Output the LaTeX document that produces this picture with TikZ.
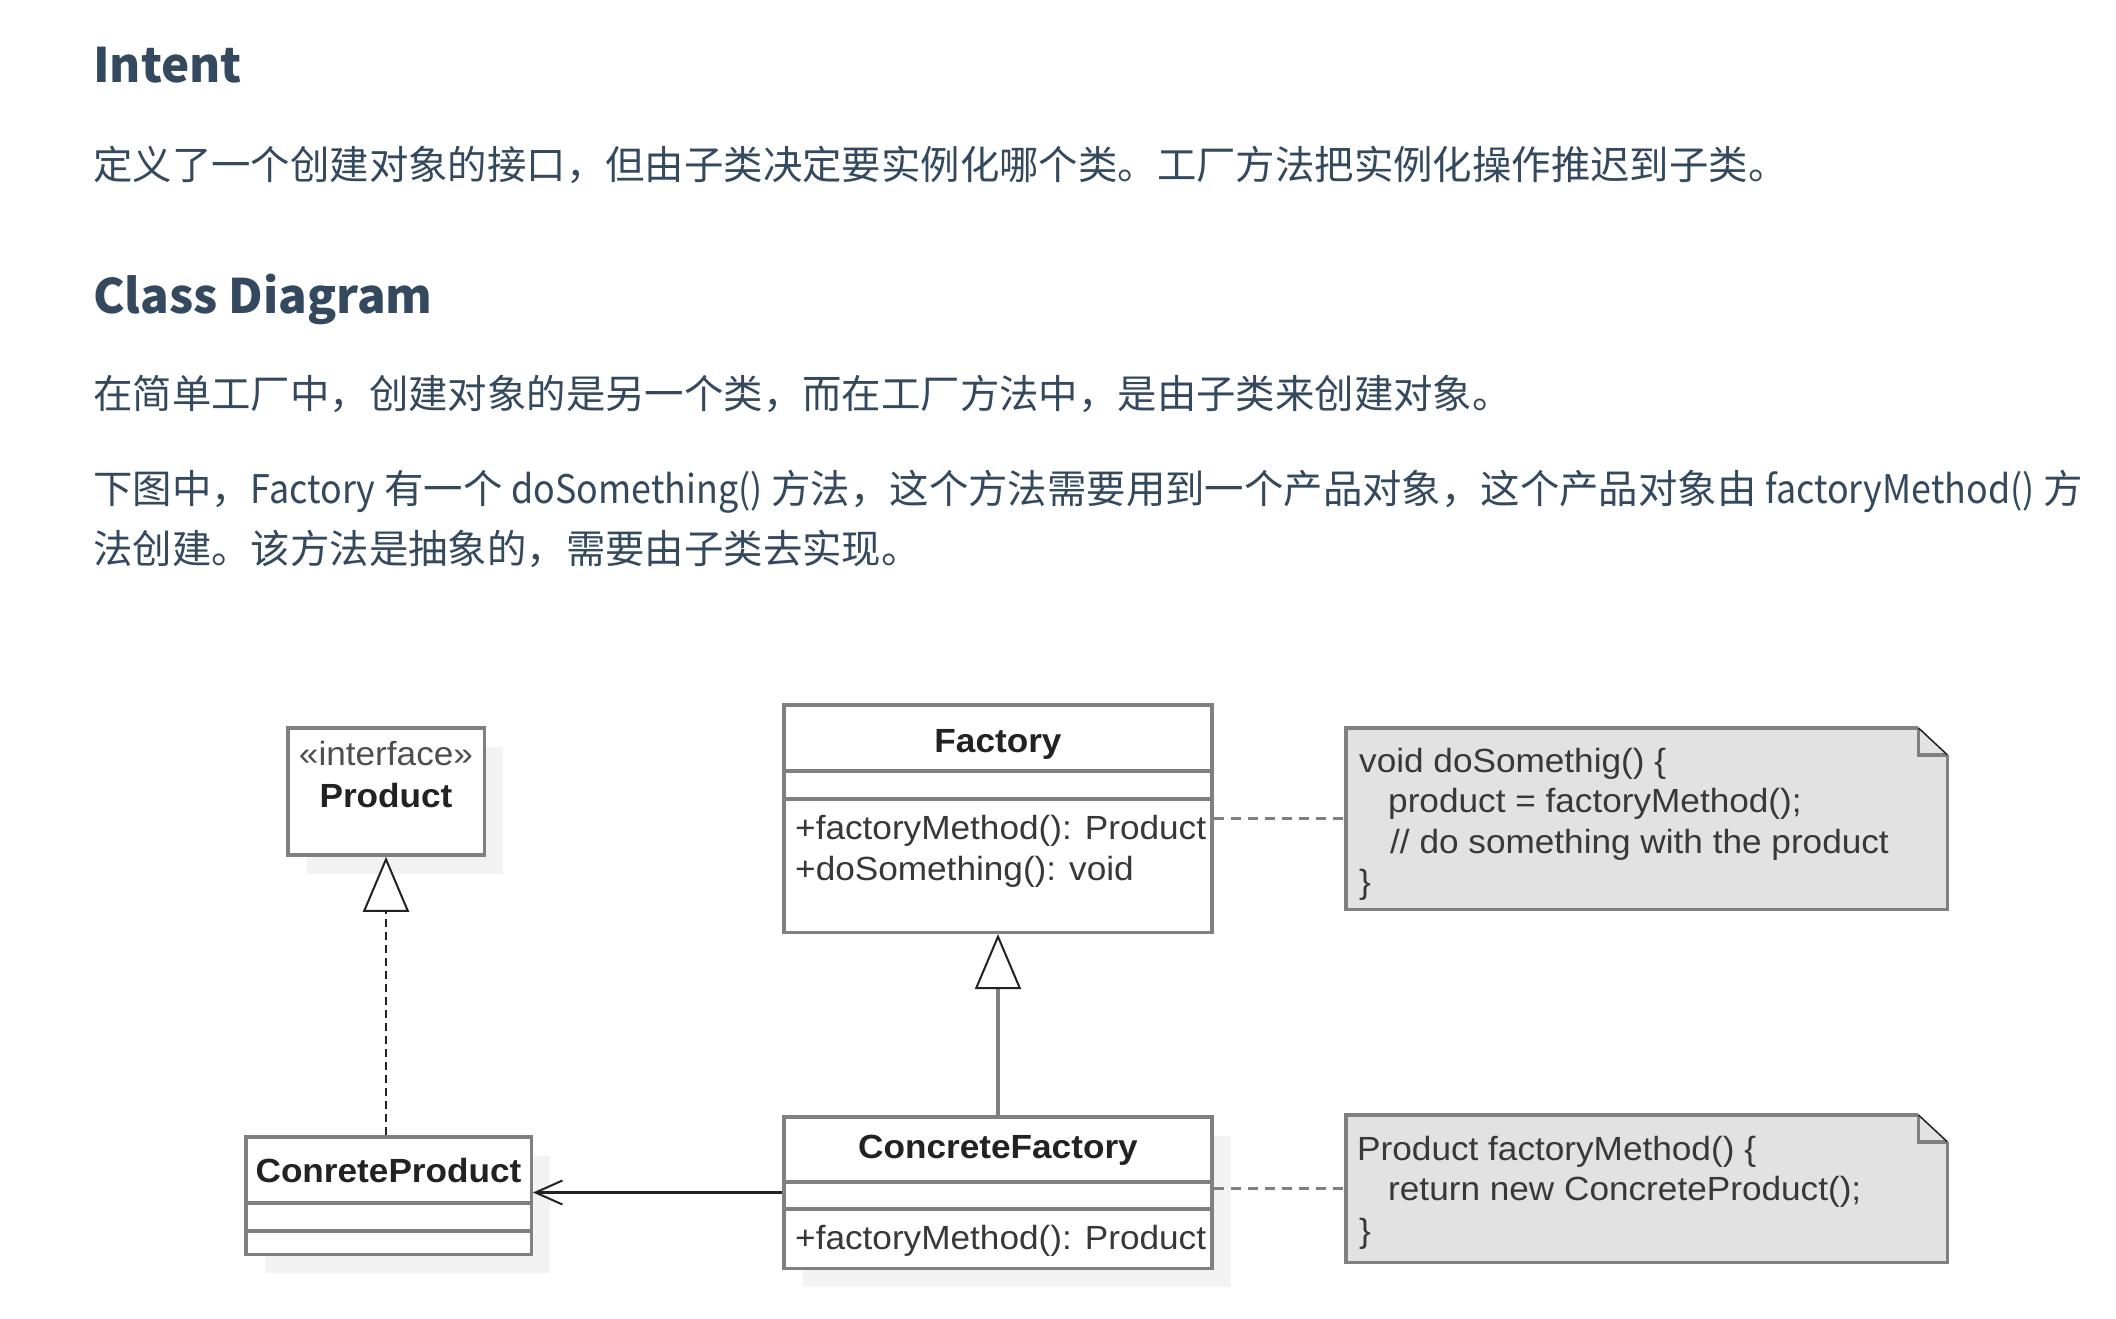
\documentclass[tikz,border=0pt]{standalone}
\usepackage{fontspec}
\setmainfont{Noto Sans CJK SC}
\newfontfamily\latinpart[FakeStretch=0.91]{Noto Sans CJK SC}
\newfontfamily\umlfont[FakeStretch=1.05]{Liberation Sans}
\usetikzlibrary{arrows.meta, shadows}

\definecolor{inkblue}{RGB}{52,73,94}
\definecolor{umlgray}{RGB}{128,128,128}
\definecolor{notegray}{RGB}{226,226,226}
\definecolor{shadegray}{RGB}{242,242,242}
\definecolor{umlink}{RGB}{34,34,34}

\begin{document}
\begin{tikzpicture}[x=1pt, y=-1pt,
  heading/.style={anchor=base west, inner sep=0, text=inkblue,
    font=\fontsize{47.5}{60}\selectfont\bfseries},
  body/.style={anchor=base west, inner sep=0, text=inkblue,
    font=\fontsize{39.4}{60}\selectfont},
  classbox/.style={draw=umlgray, line width=3.5, fill=white, minimum width=428},
  shade/.style={drop shadow={shadow xshift=19pt, shadow yshift=-19pt,
    fill=shadegray, opacity=1}},
  classname/.style={anchor=base, inner sep=0, text=umlink,
    font=\umlfont\fontsize{33.5}{40}\selectfont\bfseries},
  member/.style={anchor=base west, inner sep=0, text=umlink!90,
    font=\umlfont\fontsize{33.5}{40}\selectfont},
  divider/.style={draw=umlgray, line width=3.5},
  notebox/.style={inner sep=0, outer sep=0},
  notefill/.style={fill=notegray},
  noteline/.style={draw=umlgray, line width=3.5},
  inherit/.style={draw=umlgray, line width=4,
    -{Triangle[length=55, width=46, line width=2pt, color=umlink, fill=white]}},
  realize/.style={draw=umlink, line width=2.5, dash pattern=on 8pt off 5pt,
    -{Triangle[length=55, width=46, line width=2pt, color=umlink, fill=white]}},
  assoc/.style={draw=umlink, line width=2.5,
    -{Straight Barb[length=27, width=24, line width=2pt]}},
  notelink/.style={draw=umlgray, line width=3.5, dash pattern=on 10pt off 7pt}
]
\useasboundingbox[fill=white] (0,0) rectangle (2116,1318);

% Text
\node[heading] (intent) at (93,82) {Intent};
\node[body] (intentText) at (93,179) {定义了一个创建对象的接口，但由子类决定要实例化哪个类。工厂方法把实例化操作推迟到子类。};
\node[heading] (cdTitle) at (93,313) {Class Diagram};
\node[body] (cdText) at (93,408) {在简单工厂中，创建对象的是另一个类，而在工厂方法中，是由子类来创建对象。};
\node[body] (cdLineA) at (93,503) {下图中，{\latinpart Factory} 有一个 {\latinpart doSomething()} 方法，这个方法需要用到一个产品对象，这个产品对象由 {\latinpart factoryMethod()} 方};
\node[body] (cdLineB) at (93,563) {法创建。该方法是抽象的，需要由子类去实现。};

% Classes
\node[classbox, shade, minimum width=196.5, minimum height=127] (prod) at (386,791.5) {};
\node[member, anchor=base, text=umlink!80] (prodStereo) at (386,765) {«interface»};
\node[classname] (prodName) at (386,807) {Product};

\node[classbox, shade, minimum width=285.5, minimum height=117.5] (crprod) at (388.5,1195.5) {};
\node[classname] (crprodName) at (388.5,1182) {ConreteProduct};
\draw[divider] (crprod.west |- 0,1203) -- (crprod.east |- 0,1203);
\draw[divider] (crprod.west |- 0,1231) -- (crprod.east |- 0,1231);

\node[classbox, minimum height=227.5] (fac) at (998,818.5) {};
\node[classname] (facName) at (998,752) {Factory};
\draw[divider] (fac.west |- 0,771) -- (fac.east |- 0,771);
\draw[divider] (fac.west |- 0,799) -- (fac.east |- 0,799);
\node[member] (facOpA) at (795,839) {+factoryMethod(): Product};
\node[member] (facOpB) at (795,880) {+doSomething(): void};

\node[classbox, shade, minimum height=151.5] (cfac) at (998,1192.5) {};
\node[classname] (cfacName) at (998,1158) {ConcreteFactory};
\draw[divider] (cfac.west |- 0,1182) -- (cfac.east |- 0,1182);
\draw[divider] (cfac.west |- 0,1209) -- (cfac.east |- 0,1209);
\node[member] (cfacOp) at (795,1249) {+factoryMethod(): Product};

% Notes
\node[notebox, minimum width=601.5, minimum height=181.5] (noteA) at (1646.5,818.5) {};
\node[notebox, minimum width=601.5, minimum height=147.5] (noteB) at (1646.5,1188.5) {};
\foreach \n in {noteA, noteB} {
  \fill[notefill] (\n.south west) -- (\n.north west) -- ([xshift=-29pt]\n.north east)
    -- ([yshift=-27pt]\n.north east) -- (\n.south east) -- cycle;
  \draw[noteline] ([xshift=-29pt]\n.north east) -- (\n.north west) -- (\n.south west)
    -- (\n.south east) -- ([yshift=-27pt]\n.north east);
  \draw[noteline] ([xshift=-29pt]\n.north east) -- ([xshift=-29pt,yshift=-27pt]\n.north east)
    -- ([yshift=-27pt]\n.north east);
  \draw[umlink, line width=1.5] ([xshift=-29pt]\n.north east) -- ([yshift=-27pt]\n.north east);
}
\node[member] (noteA1) at (1359,772) {void doSomethig() \{};
\node[member] (noteA2) at (1388,812) {product = factoryMethod();};
\node[member] (noteA3) at (1390,853) {// do something with the product};
\node[member] (noteA4) at (1359,893) {\}};
\node[member] (noteB1) at (1357,1160) {Product factoryMethod() \{};
\node[member] (noteB2) at (1388,1200) {return new ConcreteProduct();};
\node[member] (noteB3) at (1359,1242) {\}};

% Arrows
\draw[realize] (crprod.north -| prod.south) -- (prod.south);
\draw[inherit] (cfac.north) -- (fac.south);
\draw[assoc] (cfac.west) -- (crprod.east |- cfac.west);
\draw[notelink] (fac.east) -- (noteA.west);
\draw[notelink] (cfac.east |- noteB.west) -- (noteB.west);

\end{tikzpicture}
\end{document}
